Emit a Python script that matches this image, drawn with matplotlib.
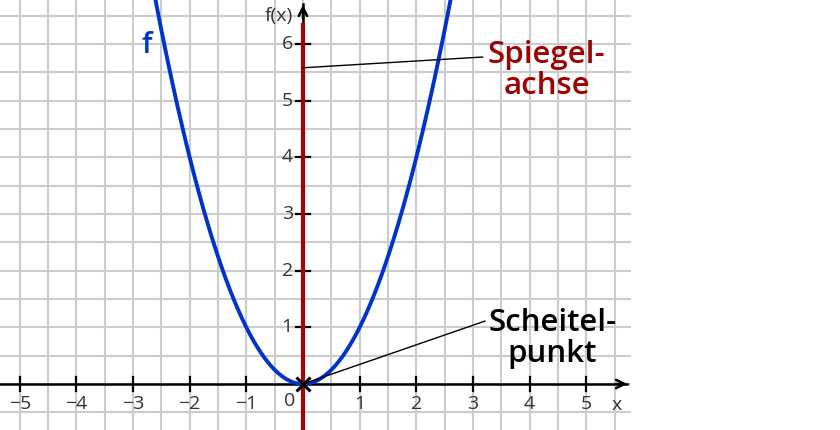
import numpy as np
import matplotlib.pyplot as plt

plt.rcParams['font.family'] = ['Open Sans', 'DejaVu Sans']

# f(x) = a*x^2 + b*x + c
coef_a = 1.0
coef_b = 0.0
coef_c = 0.0

x_ticks = [-5, -4, -3, -2, -1, 1, 2, 3, 4, 5]
y_ticks = [1, 2, 3, 4, 5, 6]
x_labels = ['\u22125', '\u22124', '\u22123', '\u22122', '\u22121', '1', '2', '3', '4', '5']
y_labels = ['1', '2', '3', '4', '5', '6']

vertex = (0.0, 0.0)
mirror_point = (0.0, 5.58)

# pixel mapping: 56.67 px per unit, origin at (303, 384)
u = 56.67
x0_px, y0_px = 303, 384
W, H = 840, 430
xmin, xmax = -x0_px / u, (W - x0_px) / u
ymin, ymax = -(H - y0_px) / u, y0_px / u

fig = plt.figure(figsize=(8.4, 4.3), dpi=100)
ax = fig.add_axes([0, 0, 1, 1])
ax.set_xlim(xmin, xmax)
ax.set_ylim(ymin, ymax)
ax.axis('off')

grid_c = '#cccccc'
grid_right = 5.77
for gx in np.arange(-5.0, 5.51, 0.5):
    ax.plot([gx, gx], [ymin, ymax], color=grid_c, lw=1.5, zorder=1)
for gy in np.arange(-0.5, 6.51, 0.5):
    ax.plot([xmin, grid_right], [gy, gy], color=grid_c, lw=1.5, zorder=1)

# axes
ax.plot([xmin, grid_right - 0.05], [0, 0], color='black', lw=1.8, zorder=3)
ax.annotate('', xy=(grid_right, 0), xytext=(grid_right - 0.3, 0),
            arrowprops=dict(arrowstyle='->,head_length=0.6,head_width=0.3', color='black', lw=1.8),
            zorder=3)
ax.plot([0, 0], [ymin, 6.7], color='black', lw=1.8, zorder=3)
ax.annotate('', xy=(0, 6.74), xytext=(0, 6.4),
            arrowprops=dict(arrowstyle='->,head_length=0.6,head_width=0.3', color='black', lw=1.8),
            zorder=3)

tl = 0.13
fs = 14
for t, lab in zip(x_ticks, x_labels):
    ax.plot([t, t], [-tl, tl], color='black', lw=1.6, zorder=3)
    ax.text(t, -0.35, lab, ha='center', va='center', fontsize=fs, color='#333333')
for t, lab in zip(y_ticks, y_labels):
    ax.plot([-tl, tl], [t, t], color='black', lw=1.6, zorder=3)
    ax.text(-0.18, t, lab, ha='right', va='center', fontsize=fs, color='#333333')
ax.text(-0.23, -0.3, '0', ha='center', va='center', fontsize=fs, color='#333333')
ax.text(5.54, -0.37, 'x', ha='center', va='center', fontsize=fs, color='#333333')
ax.text(-0.43, 6.5, 'f(x)', ha='center', va='center', fontsize=fs, color='#333333')

# mirror axis
ax.plot([0, 0], [ymin, 6.33], color='#aa0000', lw=3, zorder=4)

# parabola
xs = np.linspace(-2.7, 2.7, 400)
ys = coef_a * xs ** 2 + coef_b * xs + coef_c
ax.plot(xs, ys, color='#0033cc', lw=2.8, zorder=5, solid_capstyle='butt')
ax.text(-2.76, 5.98, 'f', ha='center', va='center', fontsize=21,
        fontweight='semibold', color='#0033cc', zorder=6)

# vertex marker
ax.plot(*vertex, marker='x', ms=10, mew=2.2, color='black', zorder=7)

# labels
ax.plot([mirror_point[0], 3.17], [mirror_point[1], 5.77], color='black', lw=1, zorder=6)
ax.text(4.3, 5.53, 'Spiegel-\nachse', ha='center', va='center', fontsize=22.5,
        fontweight='semibold', color='#a00000', linespacing=1.05, zorder=6)
ax.plot([vertex[0], 3.21], [vertex[1], 1.11], color='black', lw=1, zorder=6)
ax.text(4.4, 0.8, 'Scheitel-\npunkt', ha='center', va='center', fontsize=22.5,
        fontweight='semibold', color='black', linespacing=1.05, zorder=6)

fig.savefig('out.png', dpi=100)
